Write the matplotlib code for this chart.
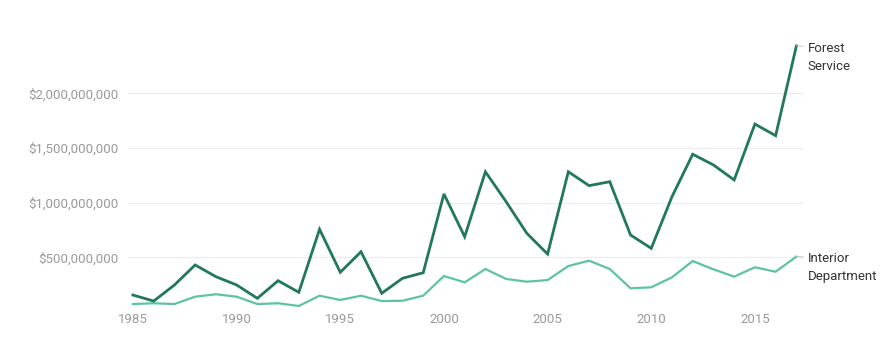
import matplotlib
matplotlib.use('Agg')
import matplotlib.pyplot as plt
from matplotlib.ticker import FuncFormatter

# Firefighting spending by agency, 1985-2017
years = list(range(1985, 2018))
forest_service = [155, 100, 247, 430, 323, 247, 125, 286, 180, 756,
                  363, 551, 171, 308, 359, 1079, 688, 1282, 1008, 719,
                  530, 1282, 1155, 1191, 704, 582, 1054, 1442, 1344, 1207,
                  1718, 1612, 2432]
interior = [73, 80, 73, 140, 162, 140, 73, 80, 55, 149,
            110, 149, 100, 103, 149, 329, 271, 393, 302, 277,
            292, 420, 469, 393, 217, 226, 317, 466, 390, 323,
            409, 368, 506]
forest_service = [v * 1e6 for v in forest_service]
interior = [v * 1e6 for v in interior]

y_ticks = [500e6, 1000e6, 1500e6, 2000e6]
x_ticks = [1985, 1990, 1995, 2000, 2005, 2010, 2015]

dark = '#22785a'
light = '#5cc49e'
gray = '#9a9a9a'

plt.rcParams['font.family'] = ['Roboto', 'DejaVu Sans']

fig = plt.figure(figsize=(8.85, 3.44), dpi=100)
ax = fig.add_axes([128 / 885, 1 - 312 / 344, (803 - 128) / 885, (312 - 38.5) / 344])

ax.plot(years, interior, color=light, lw=1.6, solid_joinstyle='miter')
ax.plot(years, forest_service, color=dark, lw=2.0, solid_joinstyle='miter')

ax.set_xlim(1984.76, 2017.32)
ax.set_ylim(0, 2.5e9)
ax.set_yticks(y_ticks)
ax.set_xticks(x_ticks)
ax.yaxis.set_major_formatter(FuncFormatter(lambda v, p: '${:,.0f}'.format(v)))
ax.grid(axis='y', color='#ececec', lw=0.8)
ax.set_axisbelow(True)
for s in ax.spines.values():
    s.set_visible(False)
ax.tick_params(length=0, colors=gray, labelsize=9.5)
ax.tick_params(axis='y', pad=7)
ax.tick_params(axis='x', pad=1)

# end labels, first line level with the line end
for name, vals in [('Forest\nService', forest_service),
                   ('Interior\nDepartment', interior)]:
    ax.annotate(name, xy=(years[-1], vals[-1]),
                xytext=(8, 3), textcoords='offset points', va='top',
                fontsize=9.5, color='#333333', linespacing=1.5,
                annotation_clip=False,
                arrowprops=dict(arrowstyle='-', color='#bbbbbb', lw=0.6,
                                shrinkA=1, shrinkB=0, relpos=(0, 0.85)))

fig.savefig('out.png', dpi=100, facecolor='white')
